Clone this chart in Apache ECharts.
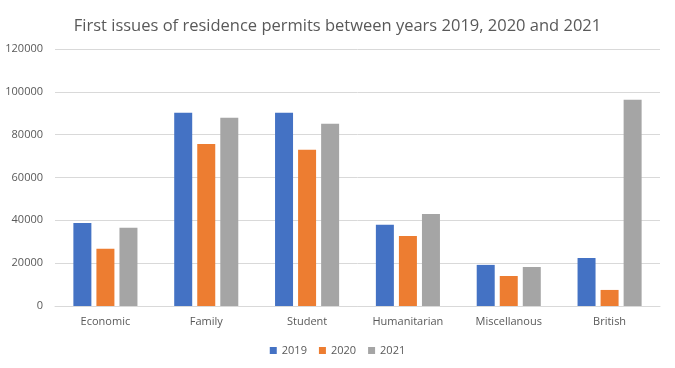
<!DOCTYPE html>
<html><head><meta charset="utf-8">
<script src="https://cdn.jsdelivr.net/npm/echarts@6/dist/echarts.min.js"></script>
<style>html,body{margin:0;padding:0;background:#fff}#c{width:675px;height:368px}</style>
</head><body><div id="c"></div>
<script>
const categories = ['Economic','Family','Student','Humanitarian','Miscellanous','British'];
const years = ['2019','2020','2021'];
const v2019 = [38800, 90200, 90200, 37900, 19200, 22400];
const v2020 = [26700, 75700, 72900, 32700, 14000, 7500];
const v2021 = [36500, 87900, 85100, 43000, 18200, 96300];
const colors = ['#4472C4','#ED7D31','#A5A5A5'];
const font = "'Open Sans', 'Liberation Sans', sans-serif";
const chart = echarts.init(document.getElementById('c'));
chart.setOption({
  animation:false,
  textStyle:{fontFamily:font},
  title:{text:'First issues of residence permits between years 2019, 2020 and 2021',left:'center',top:13,
    textStyle:{fontFamily:font,fontSize:16.5,fontWeight:'normal',color:'#595959'}},
  legend:{bottom:7,left:'center',itemWidth:7,itemHeight:7,itemGap:12,icon:'rect',
    textStyle:{fontFamily:font,fontSize:11,color:'#595959'},data:years},
  grid:{left:55,right:15,top:49,bottom:62,containLabel:false},
  xAxis:{type:'category',data:categories,axisTick:{show:false},
    axisLine:{lineStyle:{color:'#d9d9d9'}},
    axisLabel:{color:'#595959',fontSize:11,margin:10}},
  yAxis:{type:'value',min:0,max:120000,interval:20000,
    axisLine:{show:false},axisTick:{show:false},
    splitLine:{lineStyle:{color:'#d9d9d9'}},
    axisLabel:{color:'#595959',fontSize:11,margin:12,formatter:function(v){return String(v);}}},
  series:[
    {name:years[0],type:'bar',data:v2019,itemStyle:{color:colors[0]},barWidth:18,barGap:'28%'},
    {name:years[1],type:'bar',data:v2020,itemStyle:{color:colors[1]},barWidth:18,barGap:'28%'},
    {name:years[2],type:'bar',data:v2021,itemStyle:{color:colors[2]},barWidth:18,barGap:'28%'}
  ]
});
</script></body></html>
